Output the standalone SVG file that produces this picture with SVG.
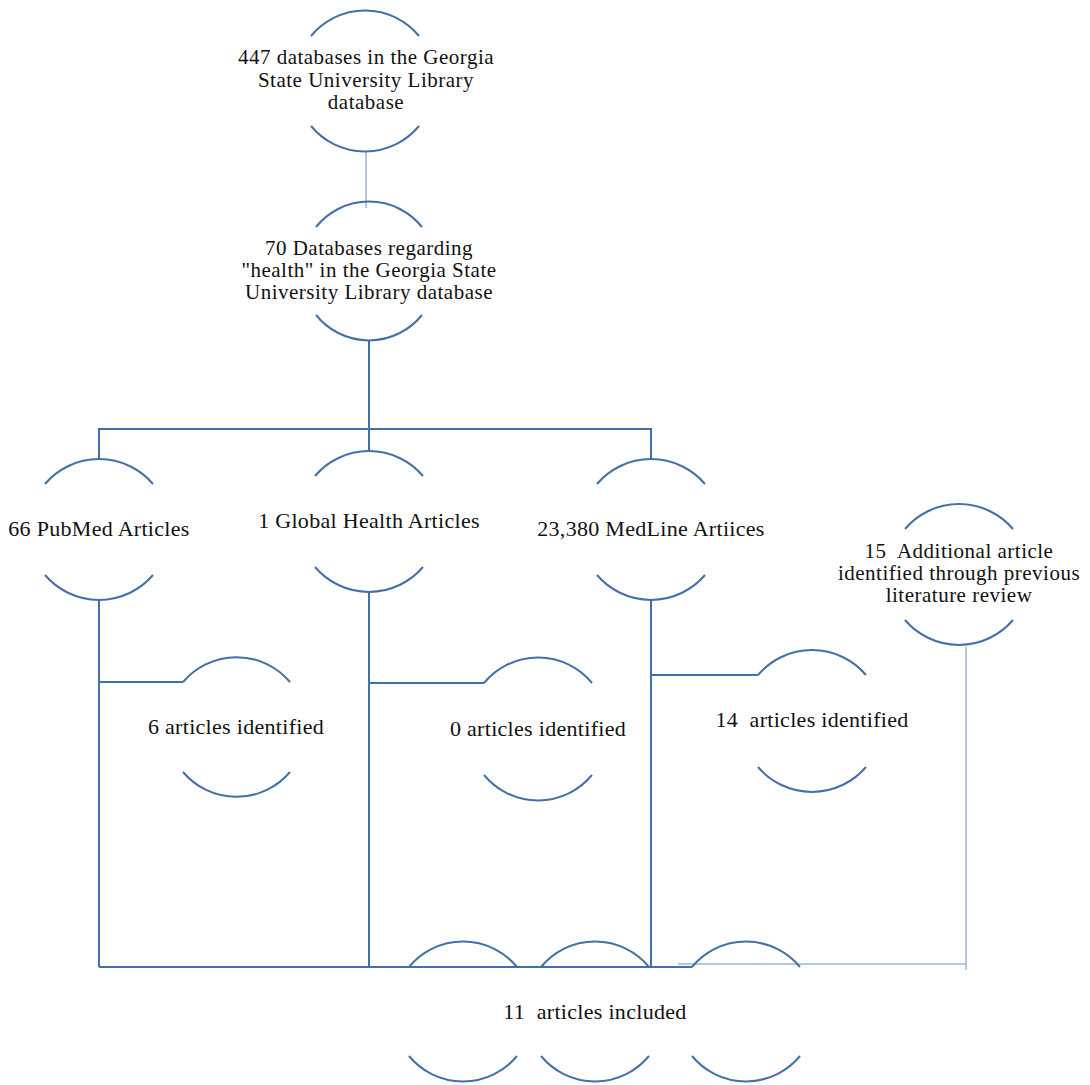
<svg xmlns="http://www.w3.org/2000/svg" width="1090" height="1085" viewBox="0 0 1090 1085">
<style>
.arc{fill:none;stroke:#4470a8;stroke-width:2}
.dk{fill:none;stroke:#4470a8;stroke-width:2}
.lt{fill:none;stroke:#9ab5da;stroke-width:1.5}
text{font-family:"Liberation Serif","Times New Roman",serif;font-size:22px;letter-spacing:0.3px;fill:#111;text-anchor:middle;white-space:pre}
text.m{font-size:21px;letter-spacing:0.5px}
</style>
<rect width="1090" height="1085" fill="#fff"/>
<g id="connectors">
<line class="lt" x1="366" y1="151" x2="366" y2="208"/>
<line class="dk" x1="369" y1="340" x2="369" y2="429"/>
<polyline class="dk" points="99,458 99,429 651,429 651,459"/>
<line class="dk" x1="369" y1="429" x2="369" y2="450"/>
<line class="dk" x1="99" y1="600" x2="99" y2="967"/>
<line class="dk" x1="369" y1="592" x2="369" y2="967"/>
<line class="dk" x1="651" y1="600" x2="651" y2="967"/>
<line class="dk" x1="99" y1="682" x2="183" y2="682"/>
<line class="dk" x1="369" y1="683" x2="484" y2="683"/>
<line class="dk" x1="651" y1="675" x2="758" y2="675"/>
<line class="dk" x1="99" y1="967" x2="692" y2="967"/>
<polyline class="lt" points="678,964 966,964"/>
<line class="lt" x1="966" y1="647" x2="966" y2="970"/>
</g>
<g id="n1">
<path class="arc" d="M311,36 A70,70 0 0 1 419,36 M311,126 A70,70 0 0 0 419,126"/>
<text class="m" x="366" y="64">447 databases in the Georgia</text>
<text class="m" x="366" y="87">State University Library</text>
<text class="m" x="366" y="109">database</text>
</g>
<g id="n2">
<path class="arc" d="M316,227 A68,68 0 0 1 422,227 M316,315 A68,68 0 0 0 422,315"/>
<text class="m" x="369" y="255">70 Databases regarding</text>
<text class="m" x="369" y="277">"health" in the Georgia State</text>
<text class="m" x="369" y="299">University Library database</text>
</g>
<g id="n3">
<path class="arc" d="M45,484 A71,71 0 0 1 153,484 M45,575 A71,71 0 0 0 153,575"/>
<text x="99" y="536">66 PubMed Articles</text>
</g>
<g id="n4">
<path class="arc" d="M315,476 A71,71 0 0 1 423,476 M315,567 A71,71 0 0 0 423,567"/>
<text x="369" y="528">1 Global Health Articles</text>
</g>
<g id="n5">
<path class="arc" d="M597,484 A71,71 0 0 1 705,484 M597,575 A71,71 0 0 0 705,575"/>
<text x="651" y="536">23,380 MedLine Artiices</text>
</g>
<g id="n6">
<path class="arc" d="M905,529 A71,71 0 0 1 1013,529 M905,620 A71,71 0 0 0 1013,620"/>
<text class="m" x="959" y="558">15  Additional article</text>
<text class="m" x="959" y="580">identified through previous</text>
<text class="m" x="959" y="602">literature review</text>
</g>
<g id="n7">
<path class="arc" d="M183,682 A70,70 0 0 1 290,682 M183,772 A70,70 0 0 0 290,772"/>
<text x="236" y="734">6 articles identified</text>
</g>
<g id="n8">
<path class="arc" d="M484,683 A70,70 0 0 1 592,683 M484,775 A70,70 0 0 0 592,775"/>
<text x="538" y="736">0 articles identified</text>
</g>
<g id="n9">
<path class="arc" d="M758,675 A71,71 0 0 1 866,675 M758,767 A71,71 0 0 0 866,767"/>
<text x="812" y="727">14  articles identified</text>
</g>
<g id="n10">
<path class="arc" d="M409,967 A70,70 0 0 1 517,967 M409,1056 A70,70 0 0 0 517,1056"/>
<path class="arc" d="M541,967 A70,70 0 0 1 649,967 M541,1056 A70,70 0 0 0 649,1056"/>
<path class="arc" d="M692,967 A70,70 0 0 1 800,967 M692,1056 A70,70 0 0 0 800,1056"/>
<text x="595" y="1019">11  articles included</text>
</g>
</svg>
